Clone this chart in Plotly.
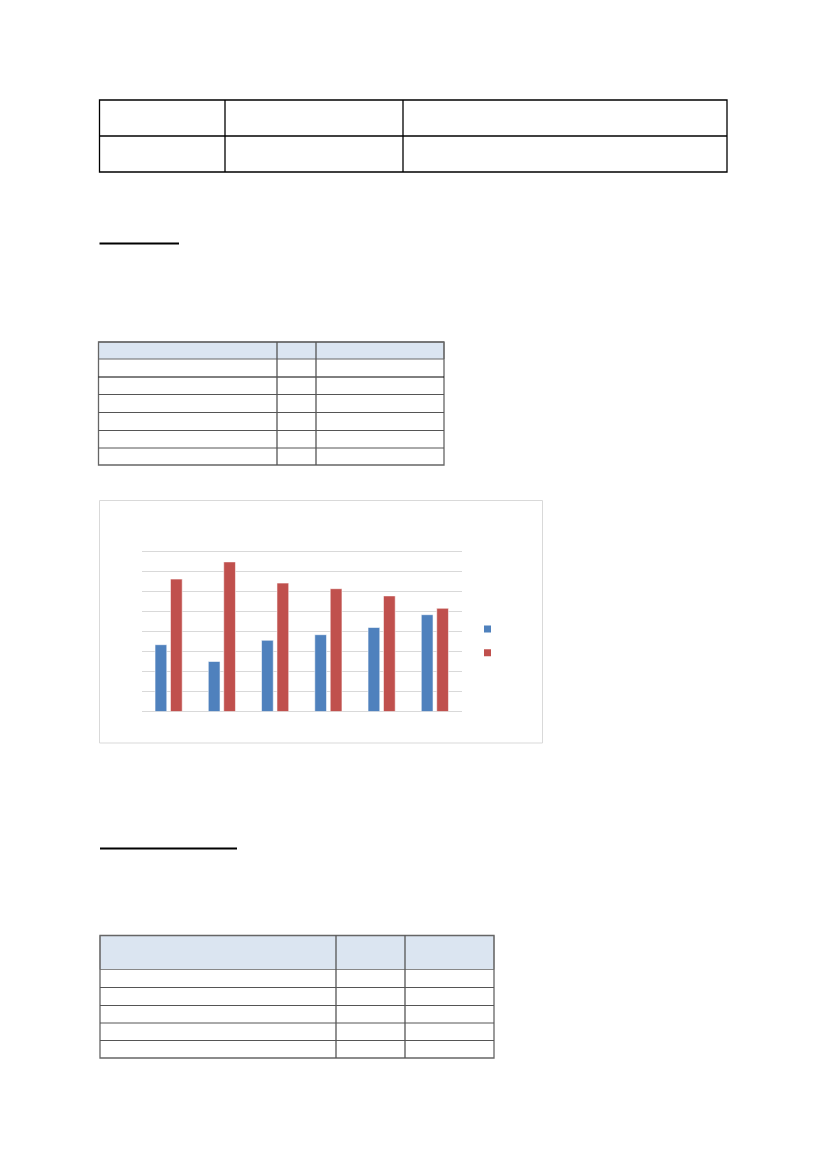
import plotly.graph_objects as go

# page size in px
W, H = 827, 1169

# chart data (no labels visible in the source)
categories = ['1', '2', '3', '4', '5', '6']
serie_azul = [16.7, 12.5, 17.8, 19.2, 21.0, 24.2]
serie_roja = [33.1, 37.4, 32.1, 30.7, 28.9, 25.8]
eje_max = 41
eje_paso = 5
color_azul = '#4F81BD'
color_roja = '#C0504D'


def px_x(v):
    return v / W


def px_y(v):
    return 1 - v / H


fig = go.Figure()

borde = dict(width=0.8, color='rgba(255,255,255,0.7)')
fig.add_trace(go.Bar(x=categories, y=serie_azul, showlegend=False,
                     marker=dict(color=color_azul, line=borde)))
fig.add_trace(go.Bar(x=categories, y=serie_roja, showlegend=False,
                     marker=dict(color=color_roja, line=borde)))

# legend keys (small squares, no text in the source)
for c in [color_azul, color_roja]:
    fig.add_trace(go.Scatter(x=[None], y=[None], mode='markers', name=' ',
                             marker=dict(symbol='square', size=7, color=c)))

shapes = []


def line(x0, y0, x1, y1, color='black', width=1.3):
    shapes.append(dict(type='line', xref='paper', yref='paper',
                       x0=px_x(x0), y0=px_y(y0), x1=px_x(x1), y1=px_y(y1),
                       line=dict(color=color, width=width)))


def rect(x0, y0, x1, y1, color='black', width=1.3, fill='rgba(0,0,0,0)'):
    shapes.append(dict(type='rect', xref='paper', yref='paper',
                       x0=px_x(x0), y0=px_y(y0), x1=px_x(x1), y1=px_y(y1),
                       line=dict(color=color, width=width), fillcolor=fill, layer='below'))


# tabla superior
rect(99.5, 100, 727, 172)
line(99.5, 136, 727, 136)
line(225, 100, 225, 172)
line(403, 100, 403, 172)

# subrayado titulo 1
line(99.5, 243.5, 179, 243.5, width=2)

# tabla pequena
rect(98.5, 342, 444, 359, color='#666666', width=1, fill='#DBE5F1')
rect(98.5, 342, 444, 465, color='#666666', width=1.3)
for yy in [394.5, 412.5, 430.5, 448]:
    line(98.5, yy, 444, yy, color='#555555', width=1)
line(98.5, 377, 444, 377, color='black', width=1)
line(277, 342, 277, 465, color='#555555', width=1.3)
line(316, 342, 316, 465, color='#555555', width=1.3)

# marco del grafico
rect(99.5, 500.5, 542.5, 743, color='#D9D9D9', width=1)

# subrayado titulo 2
line(100, 848.5, 237, 848.5, width=2)

# tabla inferior
rect(100, 935.5, 494, 969.5, color='#888888', width=1, fill='#DBE5F1')
rect(100, 935.5, 494, 1058, color='#666666', width=1.3)
for yy in [987.5, 1005.5, 1023, 1040.5]:
    line(100, yy, 494, yy, color='#555555', width=1)
line(336, 935.5, 336, 1058, color='#555555', width=1.3)
line(405, 935.5, 405, 1058, color='#555555', width=1.3)

# el eje va de 0 a 41 para que se dibuje la linea de 40 (20 px por paso de 5)
y_base = 711.5
y_tope = y_base - 160 * eje_max / 40

fig.update_layout(
    width=W, height=H,
    margin=dict(l=0, r=0, t=0, b=0),
    paper_bgcolor='white', plot_bgcolor='white',
    barmode='group', bargap=0.42, bargroupgap=0.24,
    shapes=shapes,
    showlegend=True,
    legend=dict(x=px_x(467.5), y=px_y(612), xanchor='left', yanchor='top',
                font=dict(size=16, color='white'), bgcolor='rgba(0,0,0,0)'),
    xaxis=dict(domain=[px_x(142), px_x(461.5)], showticklabels=False,
               showgrid=False, zeroline=False, showline=False, ticks=''),
    yaxis=dict(domain=[px_y(y_base), px_y(y_tope)], range=[0, eje_max], dtick=eje_paso,
               showticklabels=False, showgrid=True, gridcolor='#D9D9D9', gridwidth=1,
               zeroline=True, zerolinecolor='#D9D9D9', zerolinewidth=1, ticks=''),
)

# quitar el margen por defecto del body para que la pagina cuadre
fig.write_html('out.html', config={'displayModeBar': False},
               post_script="document.body.style.margin='0';")
